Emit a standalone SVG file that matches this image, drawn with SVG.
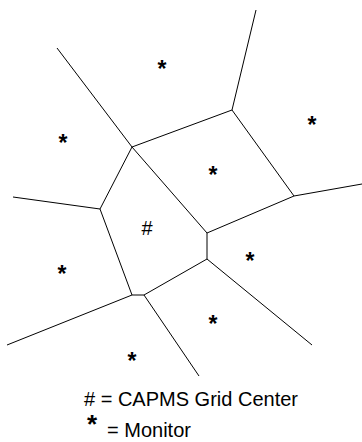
<svg xmlns="http://www.w3.org/2000/svg" width="362" height="442" viewBox="0 0 362 442">
<style>
.edge{stroke:#000;stroke-width:1;fill:none}
.mark{font-family:"Liberation Sans",Arial,sans-serif;font-size:23px;font-weight:bold;fill:#000;text-anchor:middle}
.hash{font-family:"Liberation Sans",Arial,sans-serif;font-size:20px;fill:#000;text-anchor:middle}
.legend{font-family:"Liberation Sans",Arial,sans-serif;font-size:20px;fill:#000}
</style>
<rect width="362" height="442" fill="#fff"/>
<g id="connectors">
<line class="edge" x1="57" y1="48" x2="132" y2="147"/>
<line class="edge" x1="132" y1="147" x2="232" y2="110"/>
<line class="edge" x1="232" y1="110" x2="256" y2="10"/>
<line class="edge" x1="232" y1="110" x2="294" y2="196"/>
<line class="edge" x1="294" y1="196" x2="362" y2="184"/>
<line class="edge" x1="132" y1="147" x2="207" y2="233"/>
<line class="edge" x1="207" y1="233" x2="294" y2="196"/>
<line class="edge" x1="207" y1="233" x2="207" y2="259"/>
<line class="edge" x1="207" y1="259" x2="144" y2="295"/>
<line class="edge" x1="207" y1="259" x2="312" y2="345"/>
<line class="edge" x1="144" y1="295" x2="132" y2="295"/>
<line class="edge" x1="144" y1="295" x2="199" y2="376"/>
<line class="edge" x1="132" y1="295" x2="100" y2="209"/>
<line class="edge" x1="100" y1="209" x2="132" y2="147"/>
<line class="edge" x1="100" y1="209" x2="13" y2="197"/>
<line class="edge" x1="132" y1="295" x2="7" y2="345"/>
</g>
<g id="monitor1"><text class="mark" x="162" y="77">*</text></g>
<g id="monitor2"><text class="mark" x="63" y="151">*</text></g>
<g id="monitor3"><text class="mark" x="312" y="133">*</text></g>
<g id="monitor4"><text class="mark" x="213" y="183">*</text></g>
<g id="monitor5"><text class="mark" x="62" y="282">*</text></g>
<g id="monitor6"><text class="mark" x="250" y="269">*</text></g>
<g id="monitor7"><text class="mark" x="213" y="332">*</text></g>
<g id="monitor8"><text class="mark" x="132" y="369">*</text></g>
<g id="gridcenter"><text class="hash" x="147" y="235">#</text></g>
<g id="legend">
<text class="legend" x="84" y="406"># = CAPMS Grid Center</text>
<text class="mark" x="92" y="433" style="font-size:26px">*</text>
<text class="legend" x="107" y="437">= Monitor</text>
</g>
</svg>
